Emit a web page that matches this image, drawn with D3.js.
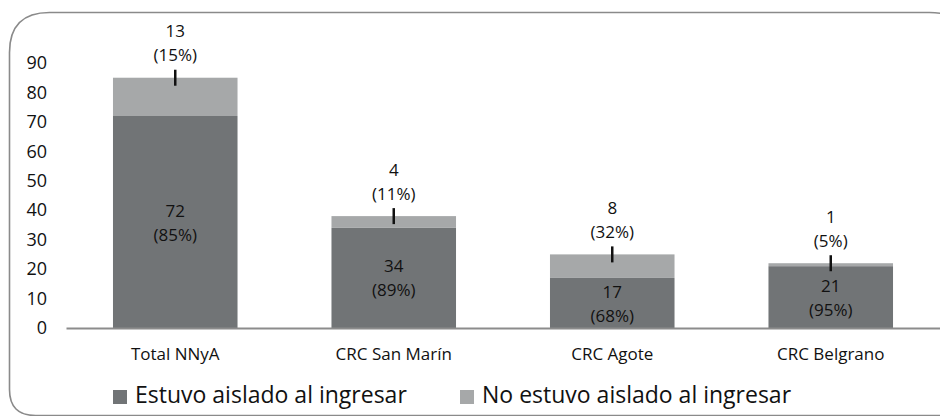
<!DOCTYPE html>
<html>
<head>
<meta charset="utf-8">
<script src="https://cdn.jsdelivr.net/npm/d3@7"></script>
<style>
  body { margin: 0; background: #fff; }
  svg { display: block; font-family: "Open Sans", sans-serif; }
</style>
</head>
<body>
<svg id="chart" width="940" height="416"></svg>
<script>
const categories = ['Total NNyA', 'CRC San Marín', 'CRC Agote', 'CRC Belgrano'];
const aislado = [72, 34, 17, 21];
const noAislado = [13, 4, 8, 1];
const pctAislado = ['(85%)', '(89%)', '(68%)', '(95%)'];
const pctNoAislado = ['(15%)', '(11%)', '(32%)', '(5%)'];
const yTicks = [0, 10, 20, 30, 40, 50, 60, 70, 80, 90];
const seriesNames = ['Estuvo aislado al ingresar', 'No estuvo aislado al ingresar'];

const dark = '#717476';
const light = '#a6a8a9';
const font = '"Open Sans", sans-serif';

const svg = d3.select('#chart');

// rounded frame (right edge runs past the window)
const fx = 9.5, fy = 12.5, fw = 960, fh = 403;
const rTop = 40, rBot = 26;
svg.append('path')
  .attr('d', `M${fx},${fy + rTop} Q${fx},${fy} ${fx + rTop},${fy} L${fx + fw - rTop},${fy}
    Q${fx + fw},${fy} ${fx + fw},${fy + rTop} L${fx + fw},${fy + fh - rBot}
    Q${fx + fw},${fy + fh} ${fx + fw - rBot},${fy + fh} L${fx + rBot},${fy + fh}
    Q${fx},${fy + fh} ${fx},${fy + fh - rBot} Z`)
  .attr('fill', 'none')
  .attr('stroke', '#8a8a8a')
  .attr('stroke-width', 1.6);

const x = d3.scaleBand()
  .domain(categories)
  .range([66, 940])
  .paddingInner(0.43)
  .paddingOuter(0.215);

const y = d3.scaleLinear().domain([0, 90]).range([328, 63]);

const rows = categories.map((c, i) => ({
  cat: c, a: aislado[i], n: noAislado[i], pa: pctAislado[i], pn: pctNoAislado[i]
}));

// y axis labels
const yAxis = svg.append('g')
  .attr('transform', 'translate(47,0)')
  .call(d3.axisLeft(y).tickValues(yTicks).tickSize(0).tickPadding(0));
yAxis.select('.domain').remove();
yAxis.selectAll('text')
  .attr('font-size', 18)
  .attr('fill', '#111')
  .style('font-family', font);

// bars
const g = svg.append('g');
g.selectAll('rect.a')
  .data(rows)
  .join('rect')
  .attr('class', 'a')
  .attr('x', d => x(d.cat))
  .attr('width', x.bandwidth())
  .attr('y', d => y(d.a))
  .attr('height', d => y(0) - y(d.a))
  .attr('fill', dark);

g.selectAll('rect.n')
  .data(rows)
  .join('rect')
  .attr('class', 'n')
  .attr('x', d => x(d.cat))
  .attr('width', x.bandwidth())
  .attr('y', d => y(d.a + d.n))
  .attr('height', d => y(d.a) - y(d.a + d.n))
  .attr('fill', light);

// x axis
const xAxis = svg.append('g')
  .attr('transform', `translate(0,${y(0)})`)
  .call(d3.axisBottom(x).tickSize(0).tickPadding(20));
xAxis.select('.domain')
  .attr('stroke', '#8c8c8c')
  .attr('stroke-width', 2);
xAxis.selectAll('text')
  .attr('font-size', 17)
  .attr('fill', '#111')
  .style('font-family', font);

// labels inside the dark segment
const inner = g.selectAll('g.inner')
  .data(rows)
  .join('g')
  .attr('class', 'inner')
  .attr('transform', d => `translate(${x(d.cat) + x.bandwidth() / 2},${y(d.a / 2)})`);
inner.append('text')
  .attr('y', -10)
  .attr('text-anchor', 'middle')
  .attr('dominant-baseline', 'middle')
  .attr('font-size', 17)
  .attr('fill', '#111')
  .text(d => d.a);
inner.append('text')
  .attr('y', 14)
  .attr('text-anchor', 'middle')
  .attr('dominant-baseline', 'middle')
  .attr('font-size', 17)
  .attr('fill', '#111')
  .text(d => d.pa);

// labels above with leader tick
const topLabels = g.selectAll('g.toplabel')
  .data(rows)
  .join('g')
  .attr('class', 'toplabel')
  .attr('transform', d => `translate(${x(d.cat) + x.bandwidth() / 2},${y(d.a + d.n)})`);
topLabels.append('line')
  .attr('y1', -8)
  .attr('y2', 8)
  .attr('stroke', '#111')
  .attr('stroke-width', 2.5);
topLabels.append('text')
  .attr('y', -45)
  .attr('text-anchor', 'middle')
  .attr('dominant-baseline', 'middle')
  .attr('font-size', 17)
  .attr('fill', '#111')
  .text(d => d.n);
topLabels.append('text')
  .attr('y', -21)
  .attr('text-anchor', 'middle')
  .attr('dominant-baseline', 'middle')
  .attr('font-size', 17)
  .attr('fill', '#111')
  .text(d => d.pn);

// legend
const legendX = [113, 460];
const legend = svg.append('g')
  .selectAll('g')
  .data(seriesNames)
  .join('g')
  .attr('transform', (d, i) => `translate(${legendX[i]},397)`);
legend.append('rect')
  .attr('x', 0)
  .attr('y', -7)
  .attr('width', 14)
  .attr('height', 14)
  .attr('fill', (d, i) => i === 0 ? dark : light);
legend.append('text')
  .attr('x', 22)
  .attr('dominant-baseline', 'middle')
  .attr('font-size', 23)
  .attr('fill', '#111')
  .text(d => d);
</script>
</body>
</html>
